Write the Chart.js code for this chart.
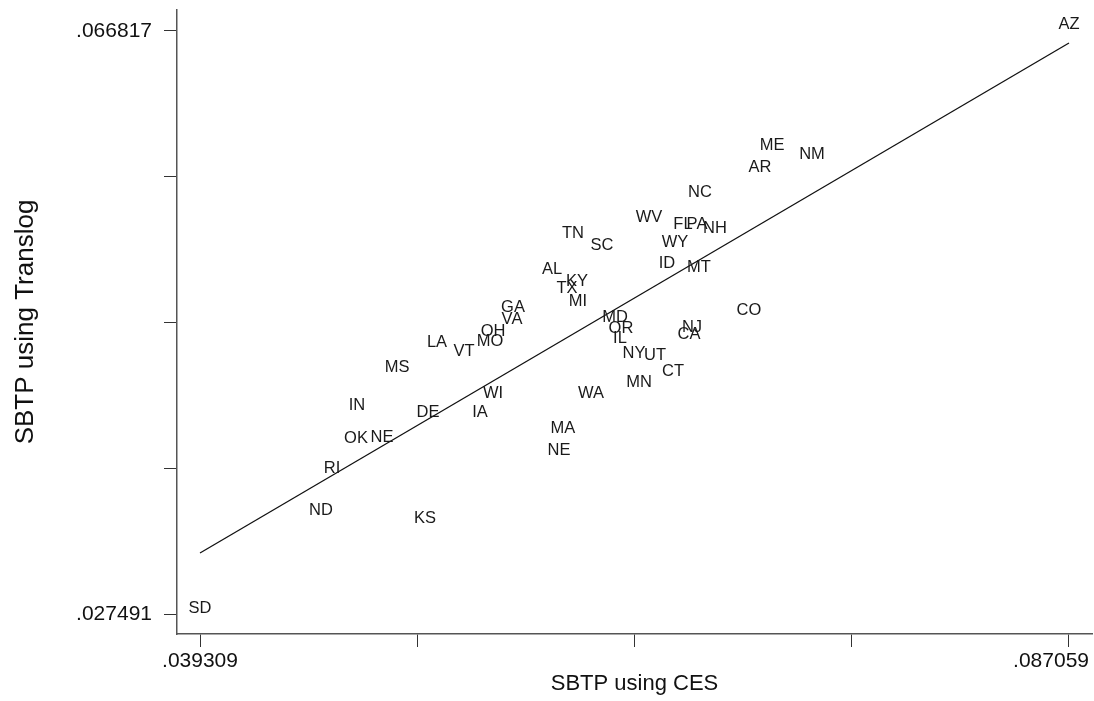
<!DOCTYPE html>
<html>
<head>
<meta charset="utf-8">
<script src="https://cdn.jsdelivr.net/npm/chart.js@4.4.1/dist/chart.umd.min.js"></script>
<style>
  html, body { margin: 0; padding: 0; background: #fff; }
  #wrap { width: 1094px; height: 701px; }
</style>
</head>
<body>
<div id="wrap"><canvas id="chart"></canvas></div>
<script>
// state labels and their two SBTP estimates
const states = ["AZ", "ME", "AR", "NM", "NC", "WV", "FL", "PA", "NH", "TN",
  "SC", "WY", "ID", "MT", "AL", "KY", "TX", "MI", "GA", "VA",
  "MD", "OR", "IL", "NY", "UT", "CT", "MN", "WA", "NJ", "CA",
  "CO", "MA", "NE", "OH", "MO", "VT", "LA", "MS", "WI", "IA",
  "DE", "IN", "OK", "NE", "RI", "ND", "KS", "SD"];

const ces = [0.087059, 0.070740, 0.070080, 0.072937, 0.066783, 0.063981, 0.065849, 0.066618, 0.067607, 0.059805,
  0.061398, 0.065409, 0.064970, 0.066728, 0.058651, 0.060024, 0.059475, 0.060079, 0.056508, 0.056453,
  0.062112, 0.062442, 0.062387, 0.063156, 0.064310, 0.065299, 0.063431, 0.060794, 0.066343, 0.066179,
  0.069475, 0.059255, 0.059035, 0.055409, 0.055244, 0.053815, 0.052332, 0.050134, 0.055409, 0.054694,
  0.051837, 0.047936, 0.047881, 0.049310, 0.046562, 0.045958, 0.051672, 0.039309];

const translog = [0.066817, 0.058707, 0.057223, 0.058100, 0.055538, 0.053853, 0.053381, 0.053381, 0.053111, 0.052774,
  0.051965, 0.052167, 0.050752, 0.050482, 0.050347, 0.049538, 0.049066, 0.048190, 0.047785, 0.046976,
  0.047111, 0.046369, 0.045695, 0.044684, 0.044549, 0.043470, 0.042729, 0.041987, 0.046437, 0.045965,
  0.047583, 0.039627, 0.038144, 0.046167, 0.045493, 0.044819, 0.045426, 0.043740, 0.041987, 0.040707,
  0.040707, 0.041178, 0.038954, 0.039021, 0.036931, 0.034099, 0.033560, 0.027491];

// fitted line end points
const fitX = [0.039309, 0.087059];
const fitY = [0.031604, 0.065988];

const xTicks = [0.039309, 0.0512465, 0.063184, 0.0751215, 0.087059];
const xTickLabels = [".039309", "", "", "", ".087059"];
const yTicks = [0.027491, 0.0373225, 0.047154, 0.0569855, 0.066817];
const yTickLabels = [".027491", "", "", "", ".066817"];

Chart.defaults.font.family = '"Liberation Sans", Arial, sans-serif';
Chart.defaults.color = "#111";

// draws the state codes at their points
const stateLabels = {
  id: "stateLabels",
  afterDatasetsDraw(chart) {
    const meta = chart.getDatasetMeta(0);
    const ctx = chart.ctx;
    ctx.save();
    ctx.font = '16.5px "Liberation Sans", Arial, sans-serif';
    ctx.fillStyle = "#1a1a1a";
    ctx.textAlign = "center";
    ctx.textBaseline = "middle";
    meta.data.forEach((pt, i) => ctx.fillText(states[i], pt.x, pt.y - 6));
    ctx.restore();
  }
};

// keep the last x label inside the canvas, like the original
const edgeLabel = {
  id: "edgeLabel",
  beforeDraw(chart) {
    const sc = chart.scales.x;
    const items = sc.getLabelItems();
    const last = items[items.length - 1];
    if (last) {
      last.options.textAlign = "right";
      last.options.translation[0] = sc.right - 3;
    }
  }
};

// no extra room for overhanging tick labels
function noLabelPadding(s) {
  s.paddingLeft = 0;
  s.paddingRight = 0;
  s.paddingTop = 0;
  s.paddingBottom = 0;
}

const ctx = document.getElementById("chart").getContext("2d");
new Chart(ctx, {
  type: "scatter",
  data: {
    datasets: [
      {
        data: states.map((s, i) => ({ x: ces[i], y: translog[i] })),
        pointRadius: 0,
        showLine: false,
      },
      {
        type: "line",
        data: fitX.map((x, i) => ({ x: x, y: fitY[i] })),
        borderColor: "#111",
        borderWidth: 1.3,
        pointRadius: 0,
        fill: false,
      },
    ],
  },
  options: {
    responsive: true,
    maintainAspectRatio: false,
    animation: false,
    layout: { padding: { top: 10, right: 2, left: 0, bottom: 0 } },
    plugins: { legend: { display: false }, tooltip: { enabled: false } },
    scales: {
      x: {
        type: "linear",
        min: 0.038045,
        max: 0.088323,
        afterBuildTicks: (s) => { s.ticks = xTicks.map((v) => ({ value: v })); },
        afterFit: (s) => { s.height = 67; noLabelPadding(s); },
        grid: { drawOnChartArea: false, drawTicks: true, tickLength: 13, color: "#333" },
        border: { display: true, color: "#555", width: 1.5 },
        ticks: {
          callback: (v, i) => xTickLabels[i],
          font: { size: 21 },
          color: "#111",
          padding: 2,
          maxRotation: 0,
          autoSkip: false,
        },
        title: {
          display: true,
          text: "SBTP using CES",
          font: { size: 22 },
          color: "#111",
          padding: { top: 0, bottom: 4 },
        },
      },
      y: {
        type: "linear",
        min: 0.026143,
        max: 0.068213,
        afterBuildTicks: (s) => { s.ticks = yTicks.map((v) => ({ value: v })); },
        afterFit: (s) => { s.width = 177; noLabelPadding(s); },
        grid: { drawOnChartArea: false, drawTicks: true, tickLength: 13, color: "#333" },
        border: { display: true, color: "#555", width: 1.5 },
        ticks: {
          callback: (v, i) => yTickLabels[i],
          font: { size: 21 },
          color: "#111",
          padding: 12,
          autoSkip: false,
        },
        title: {
          display: true,
          text: "SBTP using Translog",
          font: { size: 26 },
          color: "#111",
          padding: { top: 10, bottom: 0 },
        },
      },
    },
  },
  plugins: [stateLabels, edgeLabel],
});
</script>
</body>
</html>
